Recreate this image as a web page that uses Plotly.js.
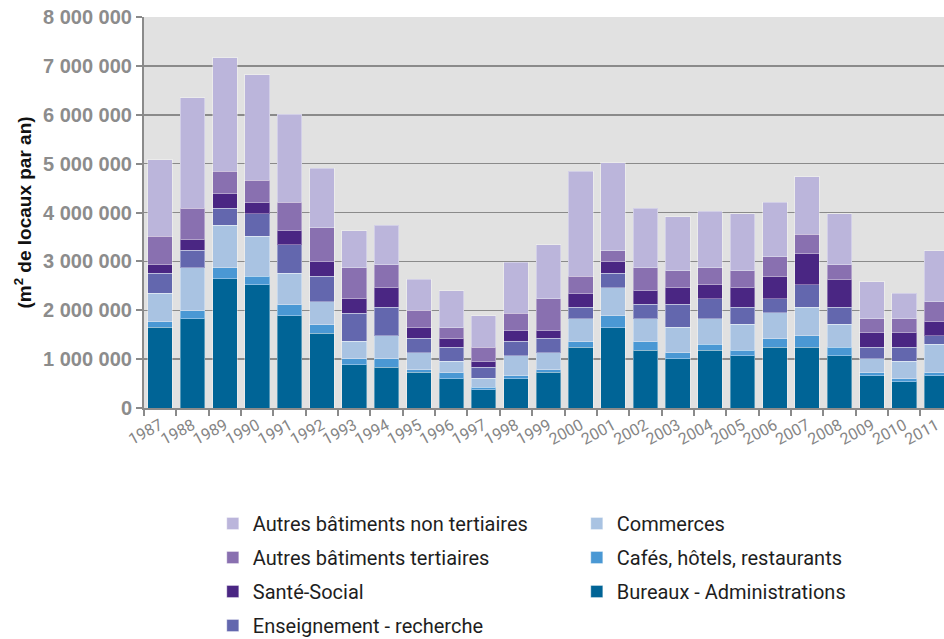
<!DOCTYPE html>
<html>
<head>
<meta charset="utf-8">
<script src="https://cdn.plot.ly/plotly-3.0.1.min.js"></script>
<style>
html,body{margin:0;padding:0;background:#fff;}
#chart{width:944px;height:639px;}
</style>
</head>
<body>
<div id="chart"></div>
<script>
var years = ["1987","1988","1989","1990","1991","1992","1993","1994","1995","1996","1997","1998","1999","2000","2001","2002","2003","2004","2005","2006","2007","2008","2009","2010","2011"];

var bureaux      = [1650000,1824000,2641000,2526000,1892000,1532000,885000,830000,728000,599000,374000,599000,728000,1239000,1641000,1184000,1007000,1184000,1069000,1239000,1239000,1069000,660000,538000,660000];
var cafes        = [115000,170000,225000,170000,218000,170000,122000,177000,55000,123000,55000,61000,55000,116000,245000,171000,123000,116000,115000,177000,238000,177000,62000,61000,62000];
var commerces    = [585000,878000,878000,817000,647000,470000,354000,470000,347000,238000,177000,409000,347000,469000,578000,469000,524000,524000,531000,531000,586000,469000,285000,361000,578000];
var enseignement = [410000,360000,347000,462000,579000,524000,579000,586000,293000,286000,231000,292000,293000,239000,293000,300000,470000,409000,348000,286000,463000,348000,239000,286000,177000];
var sante        = [170000,217000,293000,225000,292000,292000,293000,401000,218000,170000,116000,218000,163000,279000,231000,272000,340000,286000,401000,463000,626000,571000,292000,292000,286000];
var autresTert   = [580000,640000,463000,463000,586000,695000,633000,463000,360000,225000,293000,361000,647000,354000,225000,470000,341000,347000,341000,401000,408000,293000,286000,286000,409000];
var autresNonTert= [1565000,2260000,2321000,2158000,1797000,1218000,762000,810000,633000,762000,640000,1042000,1103000,2144000,1804000,1225000,1109000,1164000,1170000,1110000,1171000,1048000,756000,525000,1048000];

var seriesNames = ["Bureaux - Administrations","Cafés, hôtels, restaurants","Commerces","Enseignement - recherche","Santé-Social","Autres bâtiments tertiaires","Autres bâtiments non tertiaires"];
var seriesValues = [bureaux, cafes, commerces, enseignement, sante, autresTert, autresNonTert];
var seriesColors = ["#006496","#4a98d4","#a9c3e2","#6367ae","#4a2683","#8970b0","#bbb5db"];
var seriesLegend = ["legend2","legend2","legend2","legend","legend","legend","legend"];
var seriesRank   = [3,2,1,4,3,2,1];

var traces = seriesNames.map(function(n,i){
  return {
    type:"bar", name:n, x:years, y:seriesValues[i],
    marker:{color:seriesColors[i], line:{color:"rgba(255,255,255,0.35)", width:1}},
    legend:seriesLegend[i], legendgroup:"g"+i, legendrank:seriesRank[i],
    hoverinfo:"x+y+name"
  };
});

var legendFont = {family:"Roboto, sans-serif", size:20, color:"#1e1e1e"};

var layout = {
  width:944, height:639,
  margin:{l:144, r:0, t:17, b:231, autoexpand:false},
  paper_bgcolor:"#ffffff",
  plot_bgcolor:"#e1e1e1",
  barmode:"stack",
  bargap:0.24,
  separators:", ",
  showlegend:true,
  xaxis:{
    type:"category",
    range:[-0.5, 24.23],
    tickson:"boundaries",
    ticks:"outside", ticklen:6, tickwidth:2, tickcolor:"#8a8a8a",
    showline:true, linecolor:"#8a8a8a", linewidth:2,
    showgrid:false,
    tickangle:-28,
    tickfont:{family:"Roboto, sans-serif", size:16, color:"#858585"}
  },
  yaxis:{
    range:[0,8000000],
    tickvals:[0,1000000,2000000,3000000,4000000,5000000,6000000,7000000,8000000],
    tickformat:",d",
    ticks:"outside", ticklen:6, tickwidth:2, tickcolor:"#8a8a8a",
    showline:true, linecolor:"#8a8a8a", linewidth:2,
    showgrid:true, gridcolor:"#8a8a8a", gridwidth:1.5,
    zeroline:false,
    tickfont:{family:"Liberation Sans, Arial, sans-serif", size:20, color:"#8c8c8c", weight:"bold"},
    title:{text:"<b>(m<sup>2</sup> de locaux par an)</b>", font:{family:"Liberation Sans, Arial, sans-serif", size:19, color:"#111"}, standoff:6}
  },
  legend:{
    x:0.086, xanchor:"left", y:-0.2455, yanchor:"top",
    orientation:"v", traceorder:"grouped", tracegroupgap:5,
    font:legendFont, bgcolor:"rgba(0,0,0,0)"
  },
  legend2:{
    x:0.541, xanchor:"left", y:-0.2455, yanchor:"top",
    orientation:"v", traceorder:"grouped", tracegroupgap:5,
    font:legendFont, bgcolor:"rgba(0,0,0,0)"
  }
};

Plotly.newPlot("chart", traces, layout, {displayModeBar:false, staticPlot:true});
</script>
</body>
</html>
